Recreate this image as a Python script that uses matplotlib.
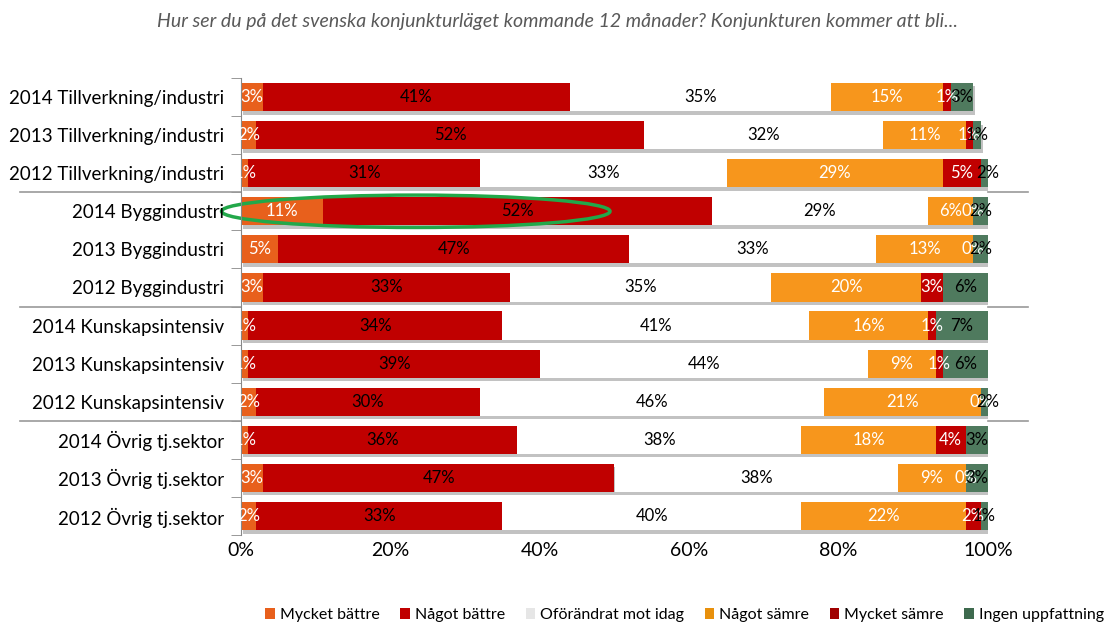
import numpy as np
import matplotlib.pyplot as plt
import matplotlib.patheffects as pe
from matplotlib.patches import Ellipse, Patch

plt.rcParams["font.family"] = ["Lato", "DejaVu Sans"]

categories = [
    "2014 Tillverkning/industri", "2013 Tillverkning/industri", "2012 Tillverkning/industri",
    "2014 Byggindustri", "2013 Byggindustri", "2012 Byggindustri",
    "2014 Kunskapsintensiv", "2013 Kunskapsintensiv", "2012 Kunskapsintensiv",
    "2014 Övrig tj.sektor", "2013 Övrig tj.sektor", "2012 Övrig tj.sektor",
]
series = ["Mycket bättre", "Något bättre", "Oförändrat mot idag",
          "Något sämre", "Mycket sämre", "Ingen uppfattning"]

mycket_battre = [3, 2, 1, 11, 5, 3, 1, 1, 2, 1, 3, 2]
nagot_battre = [41, 52, 31, 52, 47, 33, 34, 39, 30, 36, 47, 33]
oforandrat = [35, 32, 33, 29, 33, 35, 41, 44, 46, 38, 38, 40]
nagot_samre = [15, 11, 29, 6, 13, 20, 16, 9, 21, 18, 9, 22]
mycket_samre = [1, 1, 5, 0, 0, 3, 1, 1, 0, 4, 0, 2]
ingen = [3, 1, 2, 2, 2, 6, 7, 6, 2, 3, 3, 1]

data = [mycket_battre, nagot_battre, oforandrat, nagot_samre, mycket_samre, ingen]
colors = ["#E8601C", "#C00000", "#FFFFFF", "#F7961C", "#C00000", "#4F7A5E"]
legend_colors = ["#E8601C", "#C00000", "#E6E6E6", "#E8900C", "#A00000", "#3E6A4E"]
label_colors = ["white", "black", "black", "white", "white", "black"]

fig = plt.figure(figsize=(11.15, 6.26), dpi=100)
ax = fig.add_axes([241 / 1115, 1 - 535 / 626, 747 / 1115, 457 / 626])

y = np.arange(len(categories))
left = np.zeros(len(categories))
shadow = [pe.SimplePatchShadow(offset=(1.5, -2.5), shadow_rgbFace="#9a9a9a", alpha=0.6), pe.Normal()]
for vals, col, lc in zip(data, colors, label_colors):
    vals = np.array(vals, dtype=float)
    bars = ax.barh(y, vals / 100, left=left / 100, height=0.74, color=col, edgecolor="none")
    for b in bars:
        b.set_path_effects(shadow)
    for yi, l, v in zip(y, left, vals):
        ax.text((l + v / 2) / 100, yi, f"{int(v)}%", ha="center", va="center",
                fontsize=12, color=lc)
    left += vals

ax.set_xlim(0, 1)
ax.set_ylim(11.5, -0.5)
ticks = np.linspace(0, 1, 6)
ax.set_xticks(ticks)
ax.set_xticklabels([f"{int(round(t * 100))}%" for t in ticks], fontsize=14)
ax.tick_params(axis="x", length=0, pad=5)
ax.set_yticks(y)
ax.set_yticklabels(categories, fontsize=13.5)
ax.set_yticks(np.arange(-0.5, 12, 1), minor=True)
ax.tick_params(axis="y", which="major", length=0, pad=12)
ax.tick_params(axis="y", which="minor", length=7, color="#888888")
for s in ["top", "right", "bottom"]:
    ax.spines[s].set_visible(False)
ax.spines["left"].set_color("#888888")

# group separators outside the plot area
for b in [2.5, 5.5, 8.5]:
    ax.plot([-221 / 747, 0], [b, b], color="#999999", lw=1.2, clip_on=False)
    ax.plot([1, 1.054], [b, b], color="#999999", lw=1.2, clip_on=False)

# highlight ellipse
ell = Ellipse((0.234, 3), 0.52, 0.85, fill=False, edgecolor="#22A84A", lw=2.5, clip_on=False)
ax.add_patch(ell)

fig.text(0.5, 0.965, "Hur ser du på det svenska konjunkturläget kommande 12 månader? Konjunkturen kommer att bli...",
         ha="center", va="center", fontsize=14, style="italic", color="#595959")

handles = [Patch(facecolor=c, edgecolor="none") for c in legend_colors]
fig.legend(handles, series, loc="center", bbox_to_anchor=(0.614, 0.017), ncol=6, frameon=False,
           fontsize=11.5, handlelength=0.6, handleheight=0.7, handletextpad=0.3, columnspacing=1.3)

fig.savefig("out.png", dpi=100)
